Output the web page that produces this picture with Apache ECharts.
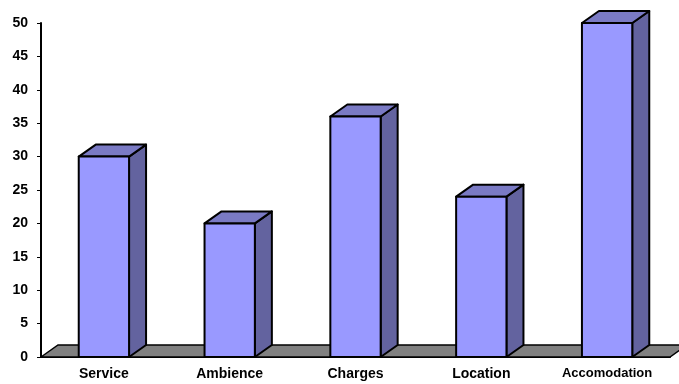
<!DOCTYPE html>
<html>
<head>
<meta charset="utf-8">
<script src="https://cdn.jsdelivr.net/npm/echarts@6/dist/echarts.min.js"></script>
<style>
  html, body { margin: 0; padding: 0; background: #fff; }
  #chart { width: 679px; height: 384px; }
</style>
</head>
<body>
<div id="chart"></div>
<script>
// data
const categories = ['Service', 'Ambience', 'Charges', 'Location', 'Accomodation'];
const values = [30, 20, 36, 24, 50];
const yTicks = { min: 0, max: 50, step: 5 };

const DX = 17, DY = -12; // depth of the fake 3d

const chart = echarts.init(document.getElementById('chart'));

function renderBar(params, api) {
  const idx = api.value(0);
  const top = api.coord([idx, api.value(1)]);
  const base = api.coord([idx, 0]);
  const w = api.size([1, 0])[0] * 0.4;
  const x0 = top[0] - w / 2, x1 = top[0] + w / 2;
  const lineStyle = { stroke: '#000', lineWidth: 2, lineJoin: 'round' };
  return {
    type: 'group',
    children: [
      {
        type: 'polygon',
        shape: { points: [[x1, top[1]], [x1 + DX, top[1] + DY], [x1 + DX, base[1] + DY], [x1, base[1]]] },
        style: Object.assign({ fill: '#63639f' }, lineStyle)
      },
      {
        type: 'polygon',
        shape: { points: [[x0, top[1]], [x0 + DX, top[1] + DY], [x1 + DX, top[1] + DY], [x1, top[1]]] },
        style: Object.assign({ fill: '#7a7ac4' }, lineStyle)
      },
      {
        type: 'rect',
        shape: { x: x0, y: top[1], width: w, height: base[1] - top[1] },
        style: Object.assign({ fill: '#9999ff' }, lineStyle)
      }
    ]
  };
}

function renderFloor(params, api) {
  const band = api.size([1, 0])[0];
  const first = api.coord([0, 0]);
  const last = api.coord([categories.length - 1, 0]);
  const left = first[0] - band / 2, right = last[0] + band / 2, y = first[1];
  return {
    type: 'polygon',
    shape: { points: [[left, y], [left + DX, y + DY], [right + DX, y + DY], [right, y]] },
    style: { fill: '#808080', stroke: '#000', lineWidth: 1.5 }
  };
}

chart.setOption({
  animation: false,
  grid: { left: 41, right: 9, top: 23, bottom: 27 },
  xAxis: {
    type: 'category',
    data: categories,
    axisLine: { lineStyle: { color: '#000', width: 2 } },
    axisTick: { length: 4, lineStyle: { color: '#000' } },
    axisLabel: {
      color: '#000',
      fontFamily: 'Liberation Sans, Arial',
      fontWeight: 'bold',
      fontSize: 14,
      margin: 10,
      interval: 0,
      formatter: v => v === 'Accomodation' ? '{s|' + v + '}' : v,
      rich: { s: { fontSize: 13, fontWeight: 'bold', fontFamily: 'Liberation Sans, Arial', color: '#000' } }
    }
  },
  yAxis: {
    type: 'value',
    min: yTicks.min,
    max: yTicks.max,
    interval: yTicks.step,
    splitLine: { show: false },
    axisLine: { show: true, lineStyle: { color: '#000', width: 2 } },
    axisTick: { show: true, length: 4, lineStyle: { color: '#000' } },
    axisLabel: {
      color: '#000',
      fontFamily: 'Liberation Sans, Arial',
      fontWeight: 'bold',
      fontSize: 14,
      margin: 13
    }
  },
  series: [
    {
      type: 'custom',
      z: 1,
      renderItem: renderFloor,
      data: [[0, 0]]
    },
    {
      type: 'custom',
      z: 2,
      renderItem: renderBar,
      data: values.map((v, i) => [i, v])
    }
  ]
});
</script>
</body>
</html>
